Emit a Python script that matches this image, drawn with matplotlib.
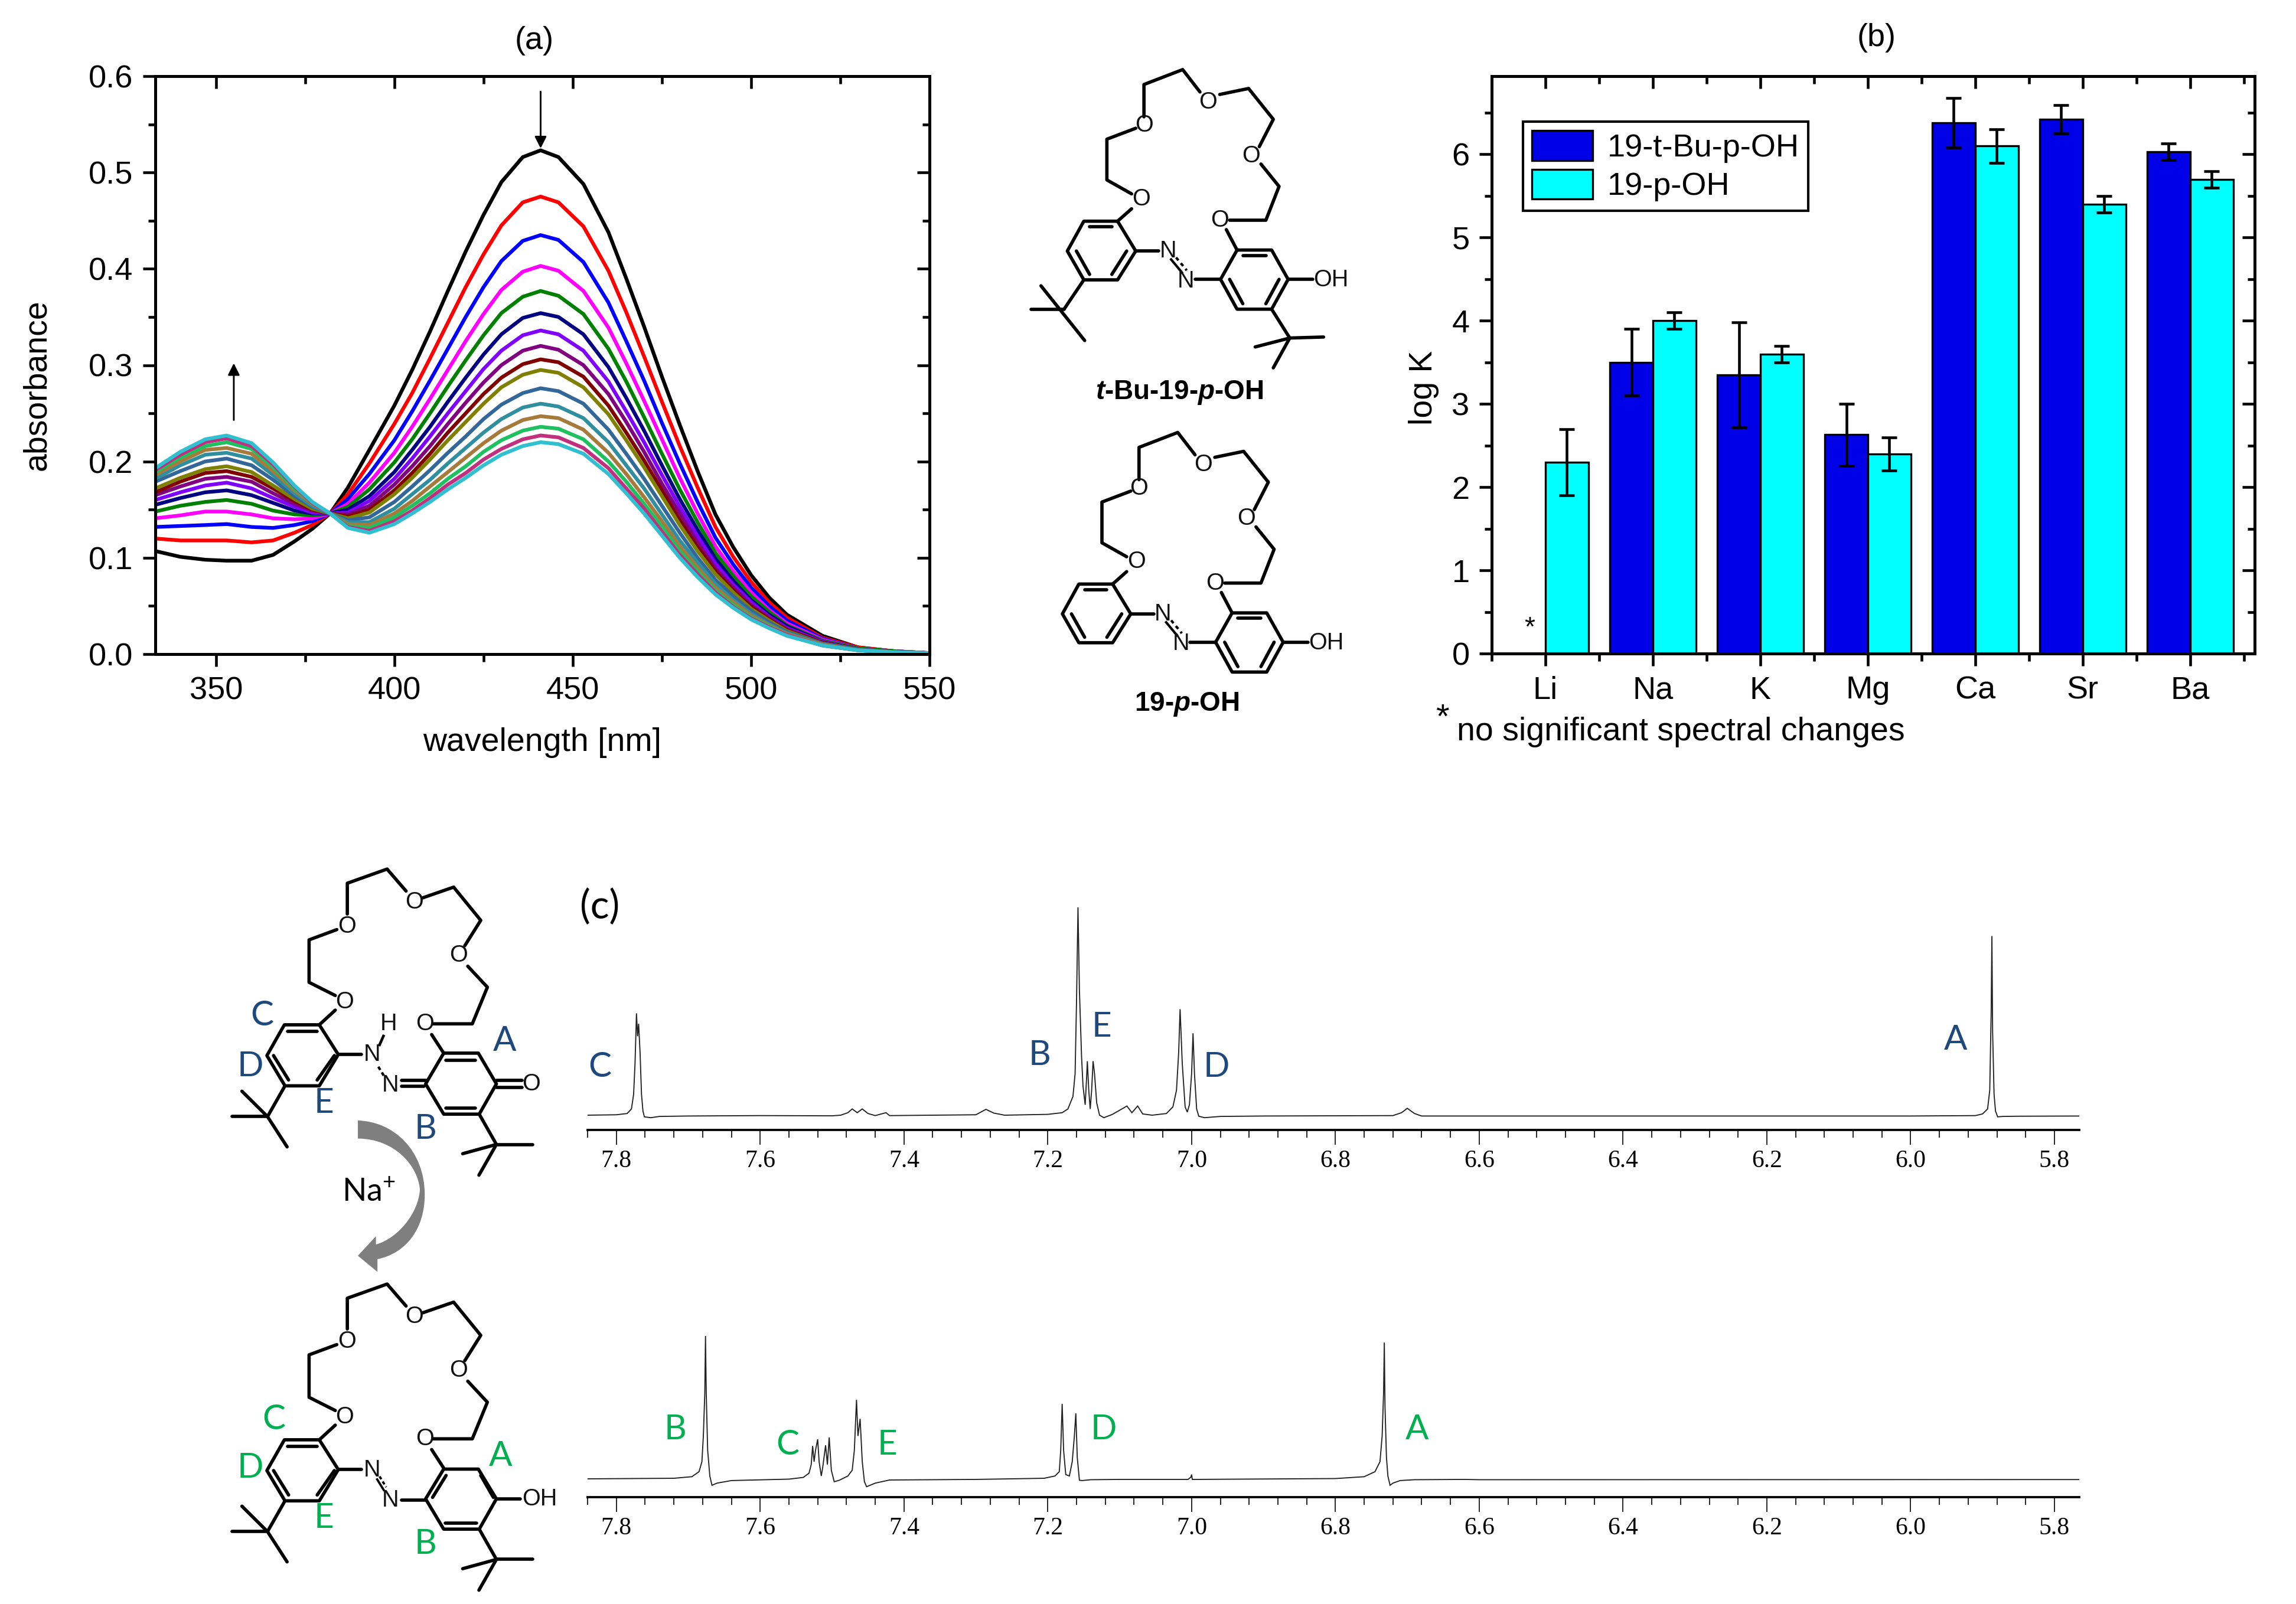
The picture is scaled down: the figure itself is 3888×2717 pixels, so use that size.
import numpy as np
import matplotlib
matplotlib.use("Agg")
import matplotlib.pyplot as plt
from matplotlib.path import Path
from matplotlib.patches import PathPatch

W, H = 3888, 2717
DPI = 300

plt.rcParams['font.family'] = ['Liberation Sans', 'DejaVu Sans']
plt.rcParams['mathtext.fontset'] = 'custom'
plt.rcParams['mathtext.rm'] = 'Liberation Sans'
plt.rcParams['mathtext.bf'] = 'Liberation Sans:bold'
plt.rcParams['mathtext.it'] = 'Liberation Sans:italic'
plt.rcParams['mathtext.bfit'] = 'Liberation Sans:italic:bold'

# panel (a), titration curves
wavelength = [333, 340, 347, 353, 360, 366, 372, 377, 382, 387, 393, 400, 405, 410, 415, 420, 425, 430,
              436, 441, 446, 453, 460, 465, 470, 475, 480, 485, 490, 495, 500, 505, 510, 520, 530, 540, 550]
abs_00 = [.107, .101, .098, .097, .097, .103, .117, .130, .146, .173, .212, .258, .295, .335, .377, .418, .456, .490,
          .516, .523, .516, .488, .438, .390, .340, .288, .238, .190, .145, .111, .082, .059, .041, .019, .007, .003, .001]
abs_01 = [.120, .118, .118, .118, .116, .118, .126, .134, .146, .166, .198, .239, .271, .307, .344, .381, .415, .445,
          .469, .475, .469, .444, .398, .355, .309, .262, .216, .173, .132, .101, .075, .054, .038, .017, .007, .003, .001]
abs_02 = [.132, .133, .134, .135, .132, .131, .134, .138, .146, .161, .187, .222, .252, .284, .317, .350, .381, .408,
          .429, .435, .430, .407, .365, .325, .284, .240, .198, .158, .121, .093, .069, .050, .035, .016, .006, .003, .001]
abs_03 = [.141, .144, .148, .148, .145, .141, .140, .141, .146, .156, .178, .209, .236, .265, .295, .325, .353, .378,
          .397, .403, .398, .377, .339, .302, .263, .223, .183, .146, .112, .086, .064, .046, .032, .015, .006, .003, .001]
abs_04 = [.148, .154, .158, .160, .156, .149, .145, .144, .146, .153, .171, .199, .223, .250, .278, .305, .331, .354,
          .371, .377, .372, .353, .317, .283, .246, .208, .171, .137, .105, .081, .060, .044, .030, .014, .006, .003, .001]
abs_05 = [.155, .162, .168, .170, .165, .157, .149, .146, .146, .150, .164, .189, .212, .236, .262, .287, .311, .332,
          .349, .354, .350, .332, .298, .266, .232, .196, .161, .129, .099, .076, .056, .041, .029, .013, .005, .002, .001]
abs_06 = [.160, .168, .175, .178, .172, .162, .153, .147, .146, .147, .159, .182, .203, .226, .250, .273, .296, .315,
          .331, .336, .332, .315, .283, .252, .220, .186, .153, .122, .094, .072, .054, .039, .027, .013, .005, .002, .001]
abs_07 = [.165, .174, .182, .184, .179, .167, .156, .149, .146, .145, .154, .176, .195, .216, .239, .261, .282, .300,
          .315, .320, .316, .300, .270, .241, .210, .177, .146, .116, .089, .069, .051, .038, .026, .012, .005, .002, .001]
abs_08 = [.168, .179, .188, .190, .184, .172, .159, .150, .146, .143, .150, .170, .188, .208, .230, .250, .270, .287,
          .301, .306, .303, .288, .258, .230, .201, .170, .139, .111, .086, .066, .049, .036, .025, .012, .005, .002, .001]
abs_09 = [.172, .183, .192, .195, .189, .175, .161, .151, .146, .141, .147, .166, .183, .202, .222, .241, .260, .277,
          .290, .295, .292, .277, .249, .222, .194, .164, .134, .107, .083, .064, .047, .035, .024, .011, .005, .002, .001]
abs_10 = [.179, .190, .200, .203, .196, .181, .164, .153, .146, .139, .142, .158, .174, .191, .209, .226, .244, .259,
          .271, .276, .273, .260, .233, .208, .182, .154, .126, .100, .077, .060, .045, .033, .023, .011, .005, .002, .001]
abs_11 = [.182, .196, .207, .209, .203, .186, .167, .154, .146, .137, .137, .151, .166, .181, .198, .214, .230, .244,
          .256, .260, .257, .245, .220, .196, .172, .145, .118, .095, .073, .056, .042, .031, .022, .010, .004, .002, .001]
abs_12 = [.186, .200, .212, .214, .208, .190, .170, .156, .146, .135, .134, .146, .159, .174, .189, .204, .219, .232,
          .243, .247, .245, .233, .209, .187, .163, .138, .112, .090, .069, .054, .040, .030, .021, .010, .004, .002, .001]
abs_13 = [.189, .204, .216, .220, .213, .194, .172, .157, .146, .133, .131, .142, .154, .167, .182, .195, .210, .222,
          .232, .236, .234, .223, .200, .179, .156, .132, .107, .086, .066, .051, .038, .029, .020, .009, .004, .002, .001]
abs_14 = [.191, .207, .220, .224, .216, .197, .174, .157, .146, .132, .128, .138, .149, .162, .176, .188, .202, .213,
          .223, .227, .225, .214, .193, .172, .151, .127, .103, .083, .064, .049, .037, .028, .020, .009, .004, .002, .001]
abs_15 = [.193, .210, .223, .227, .219, .199, .175, .158, .146, .131, .126, .135, .146, .158, .171, .183, .196, .207,
          .216, .220, .218, .208, .187, .167, .146, .123, .100, .080, .062, .048, .036, .027, .019, .009, .004, .002, .001]
abs_curves = [abs_00, abs_01, abs_02, abs_03, abs_04, abs_05, abs_06, abs_07,
              abs_08, abs_09, abs_10, abs_11, abs_12, abs_13, abs_14, abs_15]
curve_colors = ['#000000', '#FF0000', '#0000FF', '#FF00FF', '#008000', '#000080', '#8000FF', '#800080',
                '#800000', '#808000', '#336699', '#2F8F9F', '#A67A3A', '#1FC060', '#C0307F', '#30C0D0']

# panel (b)
metals = ['Li', 'Na', 'K', 'Mg', 'Ca', 'Sr', 'Ba']
logk_tbu = [np.nan, 3.5, 3.35, 2.63, 6.38, 6.42, 6.03]
err_tbu = [np.nan, 0.4, 0.63, 0.37, 0.3, 0.17, 0.1]
logk_oh = [2.3, 4.0, 3.6, 2.4, 6.1, 5.4, 5.7]
err_oh = [0.4, 0.1, 0.1, 0.2, 0.2, 0.1, 0.1]

# panel (c), upper spectrum
ppm_top = [7.841, 7.80, 7.785, 7.779, 7.776, 7.774, 7.772, 7.7705, 7.769, 7.767, 7.765, 7.763, 7.761, 7.752,
           7.74, 7.70, 7.60, 7.50, 7.488, 7.478, 7.472, 7.465, 7.458, 7.450, 7.44, 7.425, 7.42, 7.30, 7.286,
           7.275, 7.26, 7.20, 7.18, 7.172, 7.165, 7.162, 7.160, 7.158, 7.156, 7.153, 7.151, 7.148, 7.146,
           7.145, 7.143, 7.141, 7.139, 7.137, 7.135, 7.132, 7.128, 7.122, 7.11, 7.09, 7.083, 7.075, 7.068,
           7.055, 7.035, 7.026, 7.021, 7.018, 7.016, 7.013, 7.009, 7.006, 7.003, 7.000, 6.998, 6.996, 6.993,
           6.990, 6.982, 6.96, 6.90, 6.72, 6.708, 6.70, 6.69, 6.68, 6.00, 5.91, 5.90, 5.893, 5.890, 5.888,
           5.887, 5.886, 5.884, 5.882, 5.879, 5.872, 5.85, 5.762]
int_top = [0.0, .002, .008, .03, .10, .25, .49, .38, .44, .30, .10, .02, -.008, -.012,
           -.006, -.004, -.002, -.003, 0.0, .012, .030, .012, .030, .008, -.002, .012, -.002, .002, .028,
           .01, 0.0, .004, .012, .03, .09, .2, .55, 1.0, .6, .28, .14, .05, .18,
           .26, .12, .03, .12, .26, .2, .06, 0.0, -.012, .004, .044, .012, .044, .006,
           0.0, .008, .04, .12, .3, .51, .25, .04, .015, .05, .2, .394, .2, .03,
           -.005, -.012, -.006, -.004, -.002, .012, .033, .008, -.004, -.004, -.002, .006, .03, .12, .5,
           .862, .4, .1, .02, -.008, -.006, -.005, -.004]

# panel (c), lower spectrum
ppm_bot = [7.841, 7.72, 7.695, 7.685, 7.681, 7.679, 7.677, 7.676, 7.675, 7.673, 7.670, 7.667, 7.66, 7.64,
           7.56, 7.54, 7.532, 7.529, 7.527, 7.525, 7.523, 7.520, 7.518, 7.515, 7.513, 7.509, 7.5065, 7.504,
           7.501, 7.497, 7.49, 7.478, 7.472, 7.469, 7.466, 7.464, 7.461, 7.458, 7.455, 7.452, 7.44, 7.42,
           7.30, 7.205, 7.19, 7.184, 7.182, 7.180, 7.178, 7.175, 7.170, 7.166, 7.163, 7.161, 7.159, 7.156,
           7.152, 7.14, 7.10, 7.005, 7.001, 7.000, 6.999, 6.995, 6.80, 6.76, 6.745, 6.738, 6.735, 6.733,
           6.732, 6.731, 6.729, 6.727, 6.724, 6.72, 6.71, 6.69, 6.62, 6.60, 5.762]
int_bot = [0.0, .004, .015, .05, .12, .3, .6, 1.0, .6, .2, .02, -.045, -.03, -.012,
           -.002, .01, .04, .1, .23, .12, .2, .277, .12, .02, .08, .235, .1, .29,
           .06, -.02, -.01, .02, .06, .2, .553, .3, .42, .12, -.02, -.055, -.03, -.008,
           -.004, .004, .02, .05, .2, .525, .2, .03, .02, .12, .3, .458, .15, -.01,
           -.012, -.006, -.004, -.004, .012, .03, -.004, -.004, .002, .015, .05, .12, .3, .6,
           .954, .5, .15, .02, -.045, -.03, -.012, -.006, -.004, -.006, -.005]
nmr_ticks = [7.8, 7.6, 7.4, 7.2, 7.0, 6.8, 6.6, 6.4, 6.2, 6.0, 5.8]


def axes_px(fig, left, top, right, bottom):
    return fig.add_axes([left / W, 1 - bottom / H, (right - left) / W, (bottom - top) / H])


def origin_frame(ax, xmaj, xmin, ymaj, ymin):
    # outward ticks left and bottom, inward on the opposite sides
    ax.set_xticks(xmaj)
    ax.set_xticks(xmin, minor=True)
    ax.set_yticks(ymaj)
    ax.set_yticks(ymin, minor=True)
    ax.tick_params(which='major', direction='out', length=5, width=1.1, labelsize=13, pad=4)
    ax.tick_params(which='minor', direction='out', length=3, width=1.1)
    top = ax.secondary_xaxis('top')
    top.set_xticks(xmaj)
    top.set_xticks(xmin, minor=True)
    right = ax.secondary_yaxis('right')
    right.set_yticks(ymaj)
    right.set_yticks(ymin, minor=True)
    top.tick_params(which='major', direction='in', length=5, width=1.1, labeltop=False)
    top.tick_params(which='minor', direction='in', length=3, width=1.1)
    right.tick_params(which='major', direction='in', length=5, width=1.1, labelright=False)
    right.tick_params(which='minor', direction='in', length=3, width=1.1)
    for s in list(ax.spines.values()) + [top.spines['top'], right.spines['right']]:
        s.set_linewidth(1.2)


def draw_bonds(ov, paths, fx, fy, lw=1.35):
    for p in paths:
        xs = [fx(a[0]) for a in p]
        ys = [fy(a[1]) for a in p]
        ov.plot(xs, ys, color='black', lw=lw, solid_capstyle='round', solid_joinstyle='round')


def draw_atoms(ov, atoms, fx, fy, size=9.5):
    for x, y, s in atoms:
        ov.text(fx(x), fy(y), s, fontsize=size, ha='center', va='center', color='#111111')


fig = plt.figure(figsize=(W / DPI, H / DPI), dpi=DPI, facecolor='white')

# ---- panel a
ax_a = axes_px(fig, 263, 129, 1574, 1108)
for y, c in zip(abs_curves, curve_colors):
    ax_a.plot(wavelength, y, color=c, lw=1.5, solid_joinstyle='round')
ax_a.set_xlim(333, 550)
ax_a.set_ylim(0, 0.6)
origin_frame(ax_a, [350, 400, 450, 500, 550], [375, 425, 475, 525],
             [0, .1, .2, .3, .4, .5, .6], [.05, .15, .25, .35, .45, .55])
ax_a.set_yticklabels(['0.0', '0.1', '0.2', '0.3', '0.4', '0.5', '0.6'])
ax_a.set_xlabel('wavelength [nm]', fontsize=13.3)
ax_a.xaxis.set_label_coords(0.5, -0.127)
ax_a.set_ylabel('absorbance', fontsize=13.3)
ax_a.yaxis.set_label_coords(-0.133, 0.466)
ax_a.annotate('', xy=(441, .525), xytext=(441, .584),
              arrowprops=dict(arrowstyle='-|>', color='black', lw=0.7, shrinkA=0, shrinkB=0))
ax_a.annotate('', xy=(355, .302), xytext=(355, .243),
              arrowprops=dict(arrowstyle='-|>', color='black', lw=0.7, shrinkA=0, shrinkB=0))

# ---- panel b
ax_b = axes_px(fig, 2526, 129, 3818, 1107)
xpos = np.arange(len(metals))
bar_w = 0.4
ax_b.bar(xpos - bar_w / 2, logk_tbu, bar_w, color='#0000E6', edgecolor='black', lw=0.8,
         yerr=err_tbu, error_kw=dict(ecolor='black', elinewidth=1.1, capsize=3.2, capthick=1.1),
         label='19-t-Bu-p-OH')
ax_b.bar(xpos + bar_w / 2, logk_oh, bar_w, color='#00FFFF', edgecolor='black', lw=0.8,
         yerr=err_oh, error_kw=dict(ecolor='black', elinewidth=1.1, capsize=3.2, capthick=1.1),
         label='19-p-OH')
ax_b.set_xlim(-0.5, 6.6)
ax_b.set_ylim(0, 6.94)
origin_frame(ax_b, list(xpos), [-0.5, .5, 1.5, 2.5, 3.5, 4.5, 5.5, 6.5],
             [0, 1, 2, 3, 4, 5, 6], [.5, 1.5, 2.5, 3.5, 4.5, 5.5, 6.5])
ax_b.set_xticklabels(metals)
ax_b.set_ylabel('log K', fontsize=13.3)
ax_b.yaxis.set_label_coords(-0.069, 0.46)
ax_b.text(-0.146, 0.3, '*', fontsize=11, ha='center', va='center')
ax_b.legend(loc='upper left', bbox_to_anchor=(0.041, 0.921), borderaxespad=0, fancybox=False,
            framealpha=1, edgecolor='black', fontsize=13, handlelength=1.9, handleheight=1.05,
            labelspacing=0.2, handletextpad=0.45, borderpad=0.28)

# ---- overlay for titles and the drawn structures, pixel coordinates
ov = fig.add_axes([0, 0, 1, 1], zorder=5)
ov.set_xlim(0, W)
ov.set_ylim(H, 0)
ov.axis('off')
ov.patch.set_alpha(0)

ov.text(905, 69, '(a)', fontsize=13, ha='center', va='center')
ov.text(3178, 64, '(b)', fontsize=13, ha='center', va='center')
ov.text(2442, 1218, '*', fontsize=14, ha='center', va='center')
ov.text(2467, 1240, 'no significant spectral changes', fontsize=13.3, ha='left', va='center')

# structures next to panel b
fx1 = lambda v: 1700 + 1.395 * v
fy1 = lambda v: 0.842 * v
crown1 = [[(155, 390), (125, 362), (125, 280), (160, 258)],
          [(170, 235), (170, 170), (217, 140), (238, 185)],
          [(262, 190), (297, 178), (327, 240), (310, 295)],
          [(312, 330), (334, 375), (318, 443), (274, 443)],
          [(270, 462), (283, 503)],
          [(155, 420), (138, 445)]]
ring_a = [(138, 445), (97, 445), (77, 505), (97, 563), (138, 563), (160, 505), (138, 445)]
ring_a_in = [[(104, 456), (131, 456)], [(88, 505), (104, 552)], [(131, 552), (149, 505)]]
ring_b = [(283, 503), (325, 503), (345, 562), (325, 622), (283, 622), (263, 562), (283, 503)]
ring_b_in = [[(290, 514), (318, 514)], [(334, 562), (318, 611)], [(290, 611), (274, 562)]]
azo = [[(160, 505), (188, 505)], [(232, 562), (263, 562)], [(345, 562), (375, 562)]]
tbu1 = [[(97, 563), (73, 622)], [(33, 622), (73, 622)], [(45, 575), (98, 685)],
        [(325, 622), (347, 680)], [(388, 678), (347, 680)], [(305, 698), (347, 680)], [(347, 680), (327, 740)]]


def shifted(paths, dx, dy):
    return [[(a + dx, b + dy) for a, b in p] for p in paths]


draw_bonds(ov, crown1 + [ring_a, ring_b] + ring_a_in + ring_b_in + azo + tbu1, fx1, fy1)
ov.plot([fx1(203), fx1(216)], [fy1(522), fy1(548)], color='k', lw=1.0)
ov.plot([fx1(209), fx1(222)], [fy1(518), fy1(544)], color='k', lw=1.0, ls=(0, (1.5, 1.5)))
draw_atoms(ov, [(167, 400, 'O'), (170, 252, 'O'), (248, 205, 'O'), (300, 313, 'O'), (262, 443, 'O'),
                (199, 505, 'N'), (221, 565, 'N'), (397, 563, 'OH')], fx1, fy1)
ov.text(fx1(213), fy1(790), r'$\mathbfit{t}$-Bu-19-$\mathbfit{p}$-OH', fontsize=11, fontweight='bold',
        ha='center', va='center')

crown2 = shifted(crown1 + [ring_a, ring_b] + ring_a_in + azo + [[(290, 514), (318, 514)], [(334, 562), (318, 611)], [(290, 611), (274, 562)]],
                 -6, 730)
draw_bonds(ov, crown2, fx1, fy1)
ov.plot([fx1(197), fx1(210)], [fy1(1252), fy1(1278)], color='k', lw=1.0)
ov.plot([fx1(203), fx1(216)], [fy1(1248), fy1(1274)], color='k', lw=1.0, ls=(0, (1.5, 1.5)))
draw_atoms(ov, [(161, 1130, 'O'), (164, 982, 'O'), (242, 935, 'O'), (294, 1043, 'O'), (256, 1173, 'O'),
                (193, 1235, 'N'), (215, 1295, 'N'), (391, 1293, 'OH')], fx1, fy1)
ov.text(fx1(222), fy1(1417), r'19-$\mathbfit{p}$-OH', fontsize=11, fontweight='bold', ha='center', va='center')

# structures in panel c
fx2 = lambda v: 300 + 0.51 * v
fy2 = lambda v: 1420 + 0.827 * v
crown3 = [[(525, 352), (472, 382)],
          [(525, 322), (438, 295), (438, 208), (530, 187)],
          [(565, 155), (565, 92), (697, 63), (760, 108)],
          [(815, 122), (918, 100), (1008, 168), (955, 220)],
          [(965, 262), (1030, 305), (980, 380), (850, 380)],
          [(845, 402), (885, 440)]]
ring_c = [(472, 382), (356, 382), (298, 445), (358, 507), (472, 507), (535, 443), (472, 382)]
ring_c_in = [[(366, 395), (465, 395)], [(320, 445), (370, 495)], [(465, 495), (522, 445)]]
tbu3 = [[(358, 507), (300, 570)], [(182, 570), (300, 570)], [(215, 518), (300, 570)], [(300, 570), (365, 632)],
        [(1003, 565), (1060, 627)], [(1180, 627), (1060, 627)], [(948, 646), (1060, 627)], [(1060, 627), (1002, 690)]]
keto = [[(885, 440), (1000, 440), (1060, 503), (1003, 565), (885, 565), (825, 503), (885, 440)],
        [(893, 455), (990, 455)], [(893, 552), (990, 552)],
        [(1060, 496), (1145, 496)], [(1060, 510), (1145, 510)],
        [(745, 496), (825, 496)], [(745, 508), (820, 508)],
        [(535, 443), (612, 443)]]
draw_bonds(ov, crown3 + [ring_c] + ring_c_in + tbu3 + keto, fx2, fy2)
ov.plot([fx2(668), fx2(690)], [fy2(468), fy2(490)], color='k', lw=1, ls=(0, (1.5, 1.2)))
ov.plot([fx2(672), fx2(685)], [fy2(423), fy2(405)], color='k', lw=1.1)
draw_atoms(ov, [(556, 335, 'O'), (563, 180, 'O'), (787, 130, 'O'), (934, 240, 'O'), (822, 380, 'O'),
                (1175, 503, 'O'), (647, 443, 'N'), (708, 505, 'N'), (703, 380, 'H')], fx2, fy2)

enol = [[(885, 1292), (1000, 1292), (1060, 1353), (1003, 1415), (885, 1415), (825, 1353), (885, 1292)],
        [(848, 1350), (893, 1305)], [(890, 1403), (995, 1403)], [(1008, 1305), (1050, 1350)],
        [(1060, 1353), (1140, 1353)], [(745, 1355), (825, 1355)], [(535, 1293), (612, 1293)]]
draw_bonds(ov, shifted(crown3 + [ring_c] + ring_c_in + tbu3, 0, 850) + enol, fx2, fy2)
ov.plot([fx2(664), fx2(686)], [fy2(1313), fy2(1335)], color='k', lw=0.9)
ov.plot([fx2(672), fx2(694)], [fy2(1307), fy2(1329)], color='k', lw=0.9, ls=(0, (1.5, 1.2)))
draw_atoms(ov, [(556, 1185, 'O'), (563, 1030, 'O'), (787, 980, 'O'), (934, 1090, 'O'), (822, 1230, 'O'),
                (647, 1294, 'N'), (708, 1355, 'N'), (1203, 1353, 'OH')], fx2, fy2)

# curved grey arrow between the two structures
arrow_v = [(600, 578), (720, 580), (822, 640), (822, 730), (822, 800), (760, 850), (665, 862), (665, 888), (600, 855),
           (660, 815), (660, 832), (730, 820), (800, 770), (806, 720), (800, 670), (720, 615), (600, 615), (600, 578)]
arrow_c = [Path.MOVETO, Path.CURVE4, Path.CURVE4, Path.CURVE4, Path.CURVE4, Path.CURVE4, Path.CURVE4, Path.LINETO,
           Path.LINETO, Path.LINETO, Path.LINETO, Path.CURVE4, Path.CURVE4, Path.CURVE4, Path.CURVE4, Path.CURVE4,
           Path.CURVE4, Path.CLOSEPOLY]
arrow_px = [(fx2(a), fy2(b)) for a, b in arrow_v]
ov.add_patch(PathPatch(Path(arrow_px, arrow_c), facecolor='#7F7F7F', edgecolor='none'))
ov.text(fx2(637), fy2(725), 'Na$^{+}$', fontsize=13, family=['Lato', 'DejaVu Sans'], ha='center', va='center')

lato = ['Lato', 'DejaVu Sans']
ov.text(1016, 1537, '(c)', fontsize=16, family=lato, ha='center', va='center')
NAVY = '#1F497D'
GREEN = '#00B050'
for x, y, s in [(282, 363, 'C'), (243, 467, 'D'), (487, 542, 'E'), (1087, 415, 'A'), (825, 595, 'B')]:
    ov.text(fx2(x), fy2(y), s, color=NAVY, fontsize=14, family=lato, ha='center', va='center')
for x, y, s in [(322, 1190, 'C'), (243, 1290, 'D'), (487, 1392, 'E'), (1073, 1265, 'A'), (825, 1445, 'B')]:
    ov.text(fx2(x), fy2(y), s, color=GREEN, fontsize=14, family=lato, ha='center', va='center')
for x, y, s in [(1016, 1807, 'C'), (1760, 1787, 'B'), (1865, 1740, 'E'), (2060, 1807, 'D'), (3312, 1762, 'A')]:
    ov.text(x, y, s, color=NAVY, fontsize=14, family=lato, ha='center', va='center')
for x, y, s in [(1143, 2422, 'B'), (1334, 2447, 'C'), (1502, 2447, 'E'), (1869, 2422, 'D'), (2400, 2422, 'A')]:
    ov.text(x, y, s, color=GREEN, fontsize=14, family=lato, ha='center', va='center')


# ---- panel c spectra
def nmr_axes(top_px, base_px, spine_px, ppm, intensity):
    ax = axes_px(fig, 995, top_px, 3521, spine_px)
    ax.plot(ppm, intensity, color='#222222', lw=0.45, solid_joinstyle='miter')
    ax.set_xlim(7.840, 5.7655)
    # peak of height 1.0 reaches top_px, 0 sits on the baseline
    span = base_px - top_px
    ax.set_ylim(-(spine_px - base_px) / span, 1.0)
    ax.patch.set_alpha(0)
    for k in ['top', 'left', 'right']:
        ax.spines[k].set_visible(False)
    ax.spines['bottom'].set_linewidth(0.9)
    ax.set_yticks([])
    ax.set_xticks(nmr_ticks)
    ax.set_xticks([7.84 - 0.04 * i for i in range(52) if i % 5 != 1], minor=True)
    ax.tick_params(which='major', length=6, width=0.4, pad=2)
    ax.tick_params(which='minor', length=3.2, width=0.4)
    ax.set_xticklabels(['%.1f' % t for t in nmr_ticks], fontsize=10, family='Liberation Serif')
    return ax


nmr_axes(1537, 1889, 1914, ppm_top, int_top)
nmr_axes(2263, 2505, 2536, ppm_bot, int_bot)

fig.savefig('out.png', dpi=DPI, facecolor='white')
